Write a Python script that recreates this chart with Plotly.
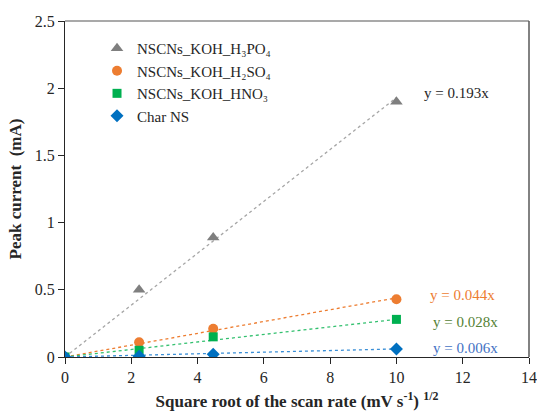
import plotly.graph_objects as go

# ---- data ----
x_vals = [0, 2.236, 4.472, 10]
names = ["NSCNs_KOH_H₃PO₄", "NSCNs_KOH_H₂SO₄", "NSCNs_KOH_HNO₃", "Char NS"]
y_h3po4 = [0, 0.50, 0.89, 1.90]
y_h2so4 = [0, 0.11, 0.21, 0.43]
y_hno3 = [0, 0.05, 0.15, 0.28]
y_char = [0, 0.005, 0.02, 0.06]
slopes = [0.193, 0.044, 0.028, 0.006]
eq_labels = ["y = 0.193x", "y = 0.044x", "y = 0.028x", "y = 0.006x"]
eq_pos = [(11.8, 1.965), (12.0, 0.46), (12.07, 0.26), (12.07, 0.067)]
x_ticks = [0, 2, 4, 6, 8, 10, 12, 14]
y_ticks = [0, 0.5, 1, 1.5, 2, 2.5]
y_ticktext = ["0", "0.5", "1", "1.5", "2", "2.5"]

series = [y_h3po4, y_h2so4, y_hno3, y_char]
marker_colors = ["#7f7f7f", "#ed7d31", "#00b050", "#0070c0"]
line_colors = ["#a6a6a6", "#ed7d31", "#33c06f", "#3b8fd6"]
symbols = ["triangle-up", "circle", "square", "diamond"]
sizes = [11, 10, 9, 10]
eq_colors = ["#262626", "#ed7d31", "#548235", "#4472c4"]

FONT = "Liberation Serif"

fig = go.Figure()

# trendlines
for s, lc in zip(slopes, line_colors):
    tx = [x_vals[0], x_vals[-1]]
    fig.add_trace(go.Scatter(x=tx, y=[s * v for v in tx], mode="lines",
                             line=dict(color=lc, width=1.3, dash="dot"),
                             showlegend=False, hoverinfo="skip"))

# data markers
for name, ys, mc, sym, sz in zip(names, series, marker_colors, symbols, sizes):
    fig.add_trace(go.Scatter(x=x_vals, y=ys, mode="markers", name=name,
                             marker=dict(color=mc, symbol=sym, size=sz)))

for (ex, ey), txt, col in zip(eq_pos, eq_labels, eq_colors):
    fig.add_annotation(x=ex, y=ey, text=txt, showarrow=False,
                       font=dict(family=FONT, size=15, color=col))

# frame top/right
fig.add_shape(type="line", xref="paper", yref="paper", x0=0, x1=1, y0=1, y1=1,
              line=dict(color="#8c8c8c", width=1.5))
fig.add_shape(type="line", xref="paper", yref="paper", x0=1, x1=1, y0=0, y1=1,
              line=dict(color="#595959", width=1.5))

fig.update_layout(
    width=537, height=411,
    margin=dict(l=65, r=8, t=21, b=54),
    paper_bgcolor="white", plot_bgcolor="white",
    font=dict(family=FONT, color="#262626"),
    showlegend=True,
    legend=dict(x=0.069, y=0.967, xanchor="left", yanchor="top",
                font=dict(family=FONT, size=15, color="#262626"),
                bgcolor="rgba(0,0,0,0)", tracegroupgap=0),
    xaxis=dict(range=[0, 14], tickvals=x_ticks, showgrid=False, zeroline=False,
               automargin=False,
               showline=True, linecolor="#262626", linewidth=1.2,
               ticks="outside", ticklen=6, tickcolor="#262626",
               tickfont=dict(family=FONT, size=16, color="#262626"),
               title=dict(text="<b>Square root of the scan rate (mV s<sup>-1</sup>) <sup>1/2</sup></b>",
                          font=dict(family=FONT, size=17, color="#262626"), standoff=16)),
    yaxis=dict(range=[0, 2.5], tickvals=y_ticks, ticktext=y_ticktext,
               showgrid=False, zeroline=False, automargin=False,
               showline=True, linecolor="#262626", linewidth=1.2,
               ticks="outside", ticklen=6, tickcolor="#262626",
               tickfont=dict(family=FONT, size=16, color="#262626"),
               title=dict(text="<b>Peak current&nbsp; (mA)</b>",
                          font=dict(family=FONT, size=17, color="#262626"), standoff=8)),
)

fig.write_html("out.html")
